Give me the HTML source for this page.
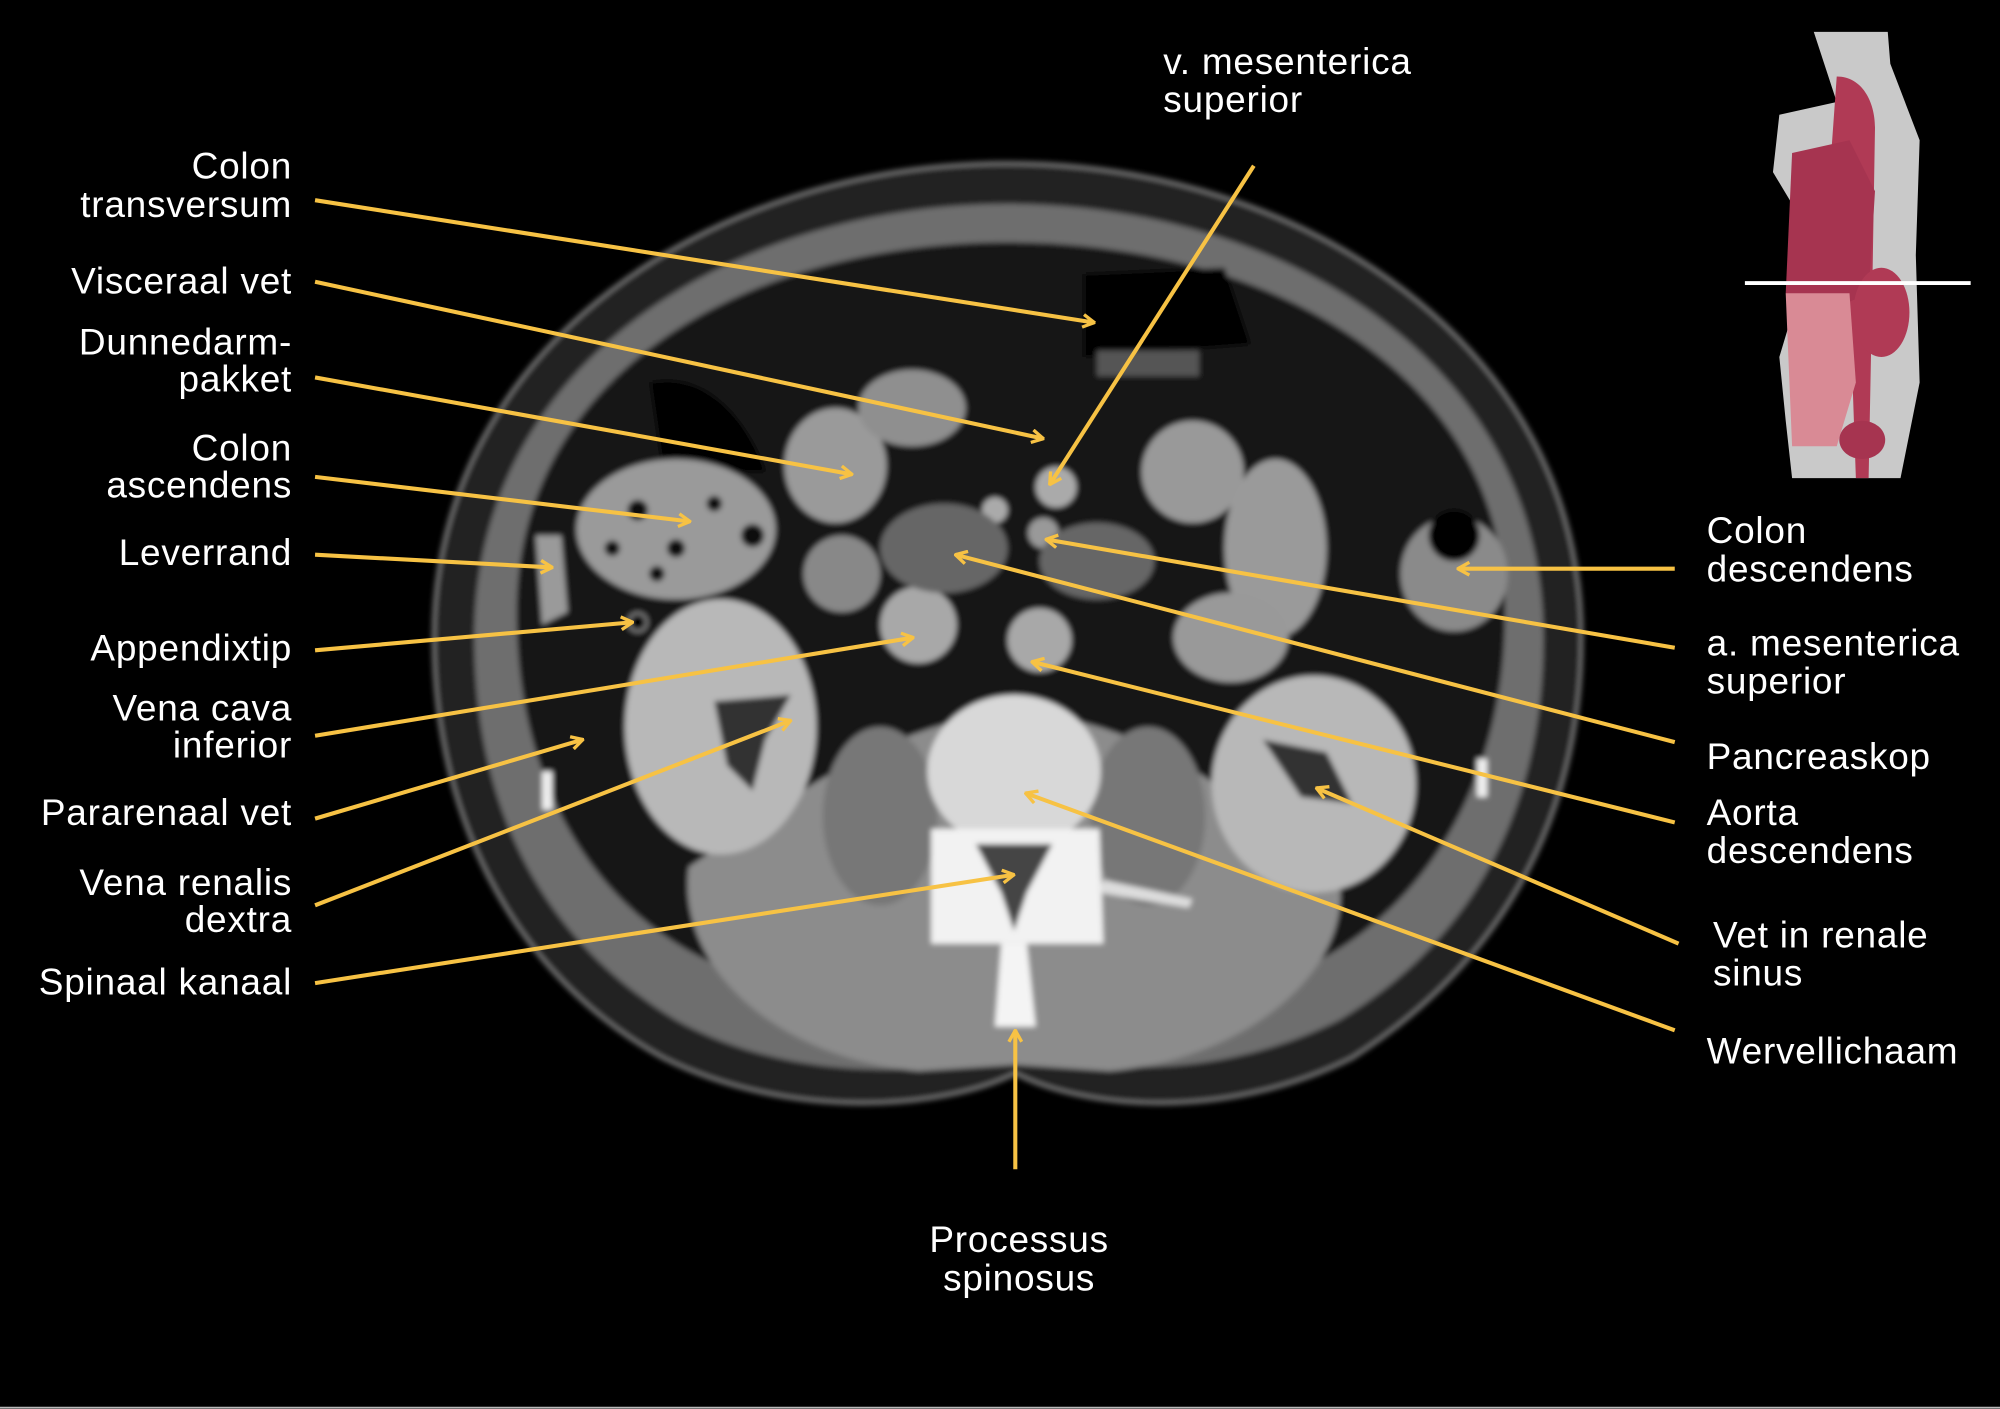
<!DOCTYPE html>
<html><head><meta charset="utf-8"><style>
html,body{margin:0;padding:0;background:#000;width:2000px;height:1409px;overflow:hidden}
svg{display:block}
text{font-family:"Liberation Sans",sans-serif;font-size:29px;letter-spacing:0.6px;fill:#fff}
</style></head><body>
<svg width="2000" height="1409" viewBox="0 0 1568 1105" preserveAspectRatio="none" xmlns="http://www.w3.org/2000/svg">
<defs>
<marker id="a" viewBox="0 0 12 12" refX="11" refY="6" markerWidth="12" markerHeight="12" markerUnits="userSpaceOnUse" orient="auto">
<path d="M2,1 L11,6 L2,11" fill="none" stroke="#F7C244" stroke-width="2.6"/>
</marker>
<filter id="bl"><feGaussianBlur stdDeviation="2"/></filter>
</defs>
<rect width="1568" height="1105" fill="#000"/>
<line x1="0" y1="1104" x2="1568" y2="1104" stroke="#bbb" stroke-width="1.5"/>

<g filter="url(#bl)">
<path d="M790,128 C1020,128 1240,270 1240,500 C1240,650 1170,760 1060,830 C960,880 850,870 796,842 C740,870 620,880 520,830 C410,770 340,650 340,500 C340,270 560,128 790,128Z" fill="#242424" stroke="#777" stroke-width="3"/>
<path d="M790,160 C1000,160 1210,280 1210,500 C1210,640 1150,740 1050,800 C950,850 850,840 796,822 C740,845 620,850 530,800 C430,740 372,640 372,500 C372,280 580,160 790,160Z" fill="#6e6e6e"/>
<path d="M790,190 C990,190 1180,290 1180,480 C1180,620 1110,720 1020,760 L570,760 C470,720 405,620 405,480 C405,290 590,190 790,190Z" fill="#121212"/>
<path d="M540,680 C600,640 700,560 796,560 C900,560 990,640 1050,690 C1060,760 980,830 870,840 L796,835 L720,840 C610,830 530,760 540,680Z" fill="#8c8c8c"/>
<ellipse cx="690" cy="640" rx="45" ry="70" fill="#777"/>
<ellipse cx="900" cy="640" rx="45" ry="70" fill="#777"/>
<ellipse cx="565" cy="570" rx="75" ry="100" fill="#b8b8b8"/>
<path d="M560,550 L620,545 L600,580 L590,620 L570,600Z" fill="#333"/>
<ellipse cx="1030" cy="615" rx="80" ry="85" fill="#b8b8b8"/>
<path d="M990,580 L1040,590 L1060,630 L1020,625Z" fill="#333"/>
<ellipse cx="795" cy="605" rx="68" ry="60" fill="#d8d8d8"/>
<path d="M730,650 L862,650 L865,740 L730,740Z" fill="#f2f2f2"/>
<path d="M765,662 L825,662 L805,700 L795,730 L785,700Z" fill="#444"/>
<path d="M785,740 L805,740 L812,805 L780,805Z" fill="#f4f4f4"/>
<path d="M865,690 L935,705 L932,712 L862,700Z" fill="#ddd"/>
<circle cx="720" cy="490" r="30" fill="#a8a8a8"/>
<circle cx="815" cy="502" r="25" fill="#a8a8a8"/>
<circle cx="828" cy="382" r="16" fill="#aaa"/>
<circle cx="818" cy="418" r="12" fill="#999"/>
<circle cx="780" cy="400" r="10" fill="#aaa"/>
<ellipse cx="740" cy="430" rx="50" ry="35" fill="#666"/>
<ellipse cx="860" cy="440" rx="45" ry="30" fill="#666"/>
<ellipse cx="655" cy="365" rx="40" ry="45" fill="#9a9a9a"/>
<ellipse cx="715" cy="320" rx="42" ry="30" fill="#8f8f8f"/>
<ellipse cx="935" cy="370" rx="40" ry="40" fill="#999"/>
<ellipse cx="1000" cy="430" rx="40" ry="70" fill="#9a9a9a"/>
<ellipse cx="965" cy="500" rx="45" ry="35" fill="#999"/>
<ellipse cx="660" cy="450" rx="30" ry="30" fill="#888"/>
<path d="M510,300 C560,290 590,340 600,370 L520,370 Z" fill="#000"/>
<ellipse cx="530" cy="415" rx="78" ry="55" fill="#9a9a9a"/>
<circle cx="500" cy="400" r="8" fill="#111"/><circle cx="530" cy="430" r="7" fill="#111"/><circle cx="560" cy="395" r="6" fill="#111"/><circle cx="480" cy="430" r="6" fill="#111"/><circle cx="590" cy="420" r="9" fill="#111"/><circle cx="515" cy="450" r="6" fill="#111"/>
<circle cx="500" cy="488" r="7" fill="#000" stroke="#888" stroke-width="2"/>
<path d="M850,215 L960,210 L980,270 L850,280Z" fill="#000"/>
<rect x="860" y="275" width="80" height="20" fill="#555"/>
<ellipse cx="1140" cy="450" rx="42" ry="45" fill="#8a8a8a"/>
<ellipse cx="1140" cy="420" rx="20" ry="20" fill="#000"/>
<path d="M420,420 L440,420 L445,480 L425,490Z" fill="#9a9a9a"/>
<rect x="1158" y="595" width="8" height="30" fill="#eee"/>
<rect x="425" y="605" width="8" height="30" fill="#eee"/>
</g>

<g>
<path d="M1422,25 L1480,25 L1482,50 L1505,110 L1502,200 L1505,300 L1490,375 L1405,375 L1400,330 L1395,280 L1410,230 L1405,160 L1390,135 L1395,90 L1440,80 Z" fill="#c9c9c9"/>
<path d="M1440,60 C1460,60 1470,80 1470,100 L1468,220 L1465,375 L1455,375 L1450,230 L1430,200 Z" fill="#b03a55"/>
<path d="M1405,120 L1450,110 L1470,150 L1465,230 L1420,250 L1400,230 Z" fill="#a63450"/>
<path d="M1400,230 L1450,230 L1455,300 L1440,350 L1405,350 Z" fill="#d98a95"/>
<ellipse cx="1475" cy="245" rx="22" ry="35" fill="#b03a55"/>
<ellipse cx="1460" cy="345" rx="18" ry="15" fill="#a63450"/>
<line x1="1368" y1="222" x2="1545" y2="222" stroke="#fff" stroke-width="3"/>
</g>

<g stroke="#F7C244" stroke-width="3.2" fill="none" marker-end="url(#a)">
<line x1="247" y1="157" x2="858" y2="253"/>
<line x1="247" y1="221" x2="818" y2="344"/>
<line x1="247" y1="296" x2="668" y2="372"/>
<line x1="247" y1="374" x2="541" y2="409"/>
<line x1="247" y1="435" x2="433" y2="445"/>
<line x1="247" y1="510" x2="496" y2="488"/>
<line x1="247" y1="577" x2="716" y2="500"/>
<line x1="247" y1="642" x2="457" y2="580"/>
<line x1="247" y1="710" x2="620" y2="565"/>
<line x1="247" y1="771" x2="795" y2="686"/>
<line x1="983" y1="130" x2="823" y2="380"/>
<line x1="1313" y1="446" x2="1143" y2="446"/>
<line x1="1313" y1="508" x2="820" y2="423"/>
<line x1="1313" y1="582" x2="749" y2="435"/>
<line x1="1313" y1="645" x2="809" y2="519"/>
<line x1="1316" y1="740" x2="1032" y2="618"/>
<line x1="1313" y1="808" x2="804" y2="622"/>
<line x1="796" y1="917" x2="796" y2="808"/>
</g>

<g text-anchor="end">
<text x="229" y="140">Colon</text><text x="229" y="170">transversum</text>
<text x="229" y="230">Visceraal vet</text>
<text x="229" y="278">Dunnedarm-</text><text x="229" y="307">pakket</text>
<text x="229" y="361">Colon</text><text x="229" y="390">ascendens</text>
<text x="229" y="443">Leverrand</text>
<text x="229" y="518">Appendixtip</text>
<text x="229" y="565">Vena cava</text><text x="229" y="594">inferior</text>
<text x="229" y="647">Pararenaal vet</text>
<text x="229" y="702">Vena renalis</text><text x="229" y="731">dextra</text>
<text x="229" y="780">Spinaal kanaal</text>
</g>
<text x="912" y="58">v. mesenterica</text><text x="912" y="88">superior</text>
<text x="1338" y="426">Colon</text><text x="1338" y="456">descendens</text>
<text x="1338" y="514">a. mesenterica</text><text x="1338" y="544">superior</text>
<text x="1338" y="603">Pancreaskop</text>
<text x="1338" y="647">Aorta</text><text x="1338" y="677">descendens</text>
<text x="1343" y="743">Vet in renale</text><text x="1343" y="773">sinus</text>
<text x="1338" y="834">Wervellichaam</text>
<g text-anchor="middle"><text x="799" y="982">Processus</text><text x="799" y="1012">spinosus</text></g>
</svg>
</body></html>
